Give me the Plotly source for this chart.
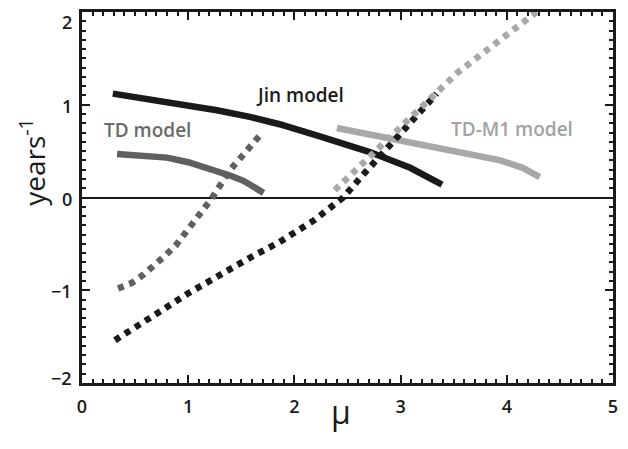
import plotly.graph_objects as go

# ---- data ----
jin_solid_x = [0.29, 0.80, 1.27, 1.58, 1.86, 2.24, 2.71, 3.09, 3.39]
jin_solid_y = [1.12, 1.03, 0.94, 0.87, 0.79, 0.66, 0.49, 0.32, 0.14]

td_solid_x = [0.33, 0.60, 0.80, 1.00, 1.21, 1.40, 1.52, 1.62, 1.71]
td_solid_y = [0.47, 0.455, 0.43, 0.38, 0.31, 0.235, 0.18, 0.12, 0.05]

tdm1_solid_x = [2.40, 2.90, 3.47, 3.94, 4.15, 4.31]
tdm1_solid_y = [0.75, 0.64, 0.51, 0.40, 0.32, 0.22]

td_dot_x = [0.34, 0.47, 0.58, 0.69, 0.78, 0.88, 0.95, 1.04, 1.21, 1.39, 1.69]
td_dot_y = [-0.98, -0.92, -0.83, -0.73, -0.63, -0.52, -0.41, -0.28, -0.03, 0.29, 0.69]

jin_dot_x = [0.31, 0.99, 1.58, 1.86, 2.18, 2.46, 2.65, 2.99, 3.34]
jin_dot_y = [-1.54, -1.04, -0.65, -0.48, -0.25, 0.0, 0.25, 0.68, 1.12]

tdm1_dot_x = [2.38, 2.98, 3.54, 4.28]
tdm1_dot_y = [0.08, 0.74, 1.35, 2.00]

x_ticks = [0, 1, 2, 3, 4, 5]
y_ticks = [-2, -1, 0, 1, 2]
y_tick_text = ["\u22122", "\u22121", "0", "1", "2"]

labels = ["Jin model", "TD model", "TD-M1 model"]

BLACK = "#1a1a1a"
DARK = "#606060"
LIGHT = "#a8a8a8"

fig = go.Figure()

def add(x, y, color, dash):
    fig.add_trace(go.Scatter(x=x, y=y, mode="lines",
                             line=dict(color=color, width=6.5, dash=dash),
                             showlegend=False, hoverinfo="skip"))

add(jin_solid_x, jin_solid_y, BLACK, "solid")
add(td_solid_x, td_solid_y, DARK, "solid")
add(tdm1_solid_x, tdm1_solid_y, LIGHT, "solid")
add(td_dot_x, td_dot_y, DARK, "6px,6px")
add(jin_dot_x, jin_dot_y, BLACK, "6px,6px")
add(tdm1_dot_x, tdm1_dot_y, LIGHT, "6px,6px")

lab_font = dict(family="Open Sans", size=19, weight=600)
fig.add_annotation(x=2.05, y=1.10, text=labels[0], showarrow=False,
                   font=dict(lab_font, color=BLACK))
fig.add_annotation(x=0.62, y=0.73, text=labels[1], showarrow=False,
                   font=dict(lab_font, color="#6a6a6a"))
fig.add_annotation(x=4.05, y=0.74, text=labels[2], showarrow=False,
                   font=dict(lab_font, color="#a2a2a2"))

# y tick labels (end labels sit slightly inside, as in the reference)
tick_font = dict(family="Open Sans", size=18, color=BLACK, weight=600)
for v, t in zip(y_ticks, y_tick_text):
    if v == y_ticks[-1]:
        anchor, shift = "top", 4
    elif v == y_ticks[0]:
        anchor, shift = "middle", 5
    else:
        anchor, shift = "middle", -1
    fig.add_annotation(xref="paper", x=0, y=v, yref="y", text=t, showarrow=False,
                       xanchor="right", yanchor=anchor, xshift=-8, yshift=shift,
                       font=tick_font)

# axis titles
fig.add_annotation(xref="paper", yref="paper", x=0.488, y=-0.0755,
                   text="μ", showarrow=False, yanchor="middle",
                   font=dict(family="Open Sans", size=32, color=BLACK))
fig.add_annotation(xref="paper", yref="paper", x=-0.093, y=0.595,
                   text="years<sup>-1</sup>", showarrow=False, textangle=-90,
                   xanchor="center", yanchor="middle",
                   font=dict(family="Open Sans", size=28, color=BLACK))

axis_common = dict(showgrid=False, showline=True, linecolor=BLACK, linewidth=2.5,
                   mirror="allticks", ticks="inside", ticklen=8, tickwidth=2,
                   tickcolor=BLACK, automargin=False,
                   minor=dict(ticks="inside", ticklen=4, tickwidth=1.5,
                              tickcolor=BLACK, dtick=0.1, showgrid=False))

fig.update_xaxes(range=[0, 5], tickvals=x_ticks, zeroline=False,
                 ticklabelstandoff=6, ticklabeloverflow="allow",
                 tickfont=tick_font, **axis_common)
fig.update_yaxes(range=[-2, 2], tickvals=y_ticks, zeroline=True,
                 zerolinecolor=BLACK, zerolinewidth=1.5,
                 showticklabels=False, **axis_common)

# page body has an 8px default margin; size the figure to fill the window
fig.update_layout(width=620, height=441,
                  margin=dict(l=74, r=15, t=4, b=66, autoexpand=False),
                  plot_bgcolor="white", paper_bgcolor="white")

fig.write_html("out.html")
